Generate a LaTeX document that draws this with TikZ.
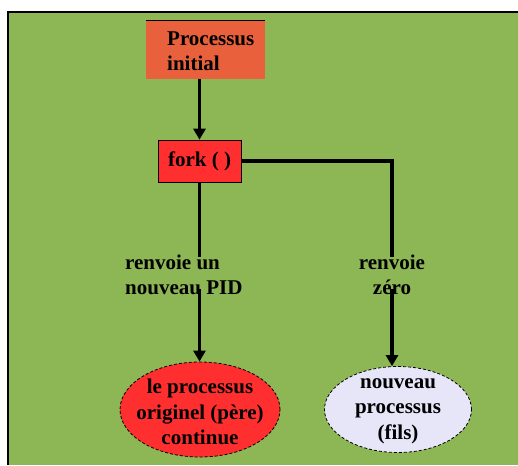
\documentclass[tikz,border=0pt]{standalone}
\usepackage{fontspec}
\setmainfont{Liberation Serif}
\usetikzlibrary{arrows.meta,shapes.geometric}
\definecolor{bggreen}{RGB}{141,182,84}
\definecolor{boxorange}{RGB}{232,96,60}
\definecolor{forkred}{RGB}{255,47,47}
\definecolor{childlav}{RGB}{230,230,248}
\tikzset{
  txt/.style={font=\fontsize{21}{25.5}\selectfont\bfseries, align=center, inner sep=0pt},
  conn/.style={line width=3.2pt},
  arr/.style={line width=3.2pt, -{Triangle[width=12pt,length=11pt]}},
  ell/.style={ellipse, draw=black, densely dashed, line width=0.8pt, inner sep=0pt},
}
\begin{document}
\begin{tikzpicture}[x=1pt,y=-1pt]
\useasboundingbox (0,0) rectangle (518,465);
\fill[white] (0,0) rectangle (518,465);
\fill[bggreen] (8,12) rectangle (518,465);
\draw[line width=1.5pt] (8,465) -- (8,12) -- (518,12);
% Processus initial
\node[fill=boxorange, minimum width=119pt, minimum height=58pt, inner sep=0pt, anchor=north west] (init) at (146,21) {};
\draw[line width=1pt] (init.north west) -- (init.north east);
\node[txt, align=left, anchor=west] (initlbl) at (167,51) {Processus\\initial};
% fork
\node[fill=forkred, draw=black, line width=0.6pt, minimum width=83pt, minimum height=42pt, inner sep=0pt, font=\fontsize{21}{26}\selectfont\bfseries] (fork) at (199.5,161) {fork ( )};
% labels
\node[txt, align=left, anchor=west] (lbl1) at (125,275) {renvoie un\\nouveau PID};
\node[txt] (lbl2) at (392,275) {renvoie\\zéro};
% ellipses
\node[ell, fill=forkred, minimum width=160pt, minimum height=95pt] (parent) at (200,409.5) {};
\node[txt] (parenttxt) at (200,412) {le processus\\originel (père)\\continue};
\node[ell, fill=childlav, minimum width=147pt, minimum height=86pt] (child) at (398,409.5) {};
\node[txt] (childtxt) at (398,411) {nouveau\\processus\\(fils)};
% connectors
\draw[arr] (init.south -| fork.north) -- (fork.north);
\draw[conn] (fork.south) -- ([yshift=-2pt]lbl1.north -| fork.south);
\coordinate (l1bot) at ([yshift=6pt]lbl1.south -| fork.south);
\draw[arr] (l1bot) -- (parent.north -| l1bot);
\draw[conn] (fork.east) -| ([yshift=-2pt]lbl2.north);
\coordinate (l2bot) at ([yshift=6pt]lbl2.south);
\draw[arr] (l2bot) -- (l2bot |- child.north);
\end{tikzpicture}
\end{document}
